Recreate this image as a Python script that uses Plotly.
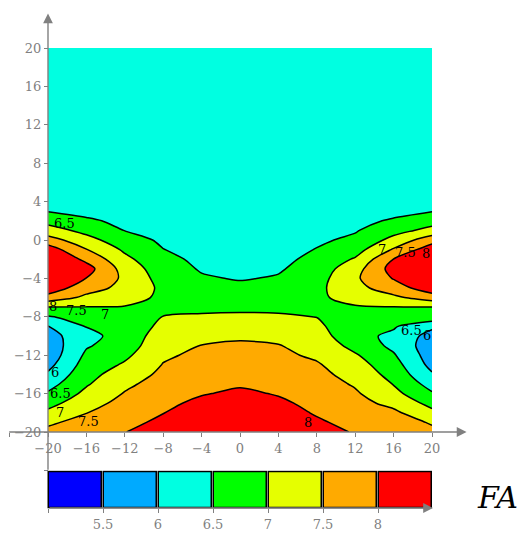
import numpy as np
import plotly.graph_objects as go

# ---------------- data ----------------
x_vals = [-20, -16, -12, -8, -4, 0, 4, 8, 12, 16, 20]
y_vals = [-20, -19, -18, -17, -16, -15, -14, -13, -12, -11, -10, -9, -8, -7,
          -6, -5, -4, -3, -2, -1, 0, 1, 2, 3, 4, 20]

# FA values, one list per x column, ordered as y_vals
fa_x_m20 = [7.60, 7.43, 7.11, 6.83, 6.56, 6.31, 6.07, 5.85, 5.70, 5.70, 5.80, 5.98, 6.45,
            6.98, 7.83, 8.30, 8.50, 8.60, 8.50, 8.25, 7.72, 7.21, 6.84, 6.48, 6.15, 6.10]
fa_x_m16 = [7.78, 7.65, 7.49, 7.31, 7.12, 6.95, 6.83, 6.71, 6.59, 6.45, 6.35, 6.52, 6.75,
            6.98, 7.38, 7.71, 7.99, 8.20, 7.88, 7.52, 7.17, 6.86, 6.58, 6.35, 6.20, 6.10]
fa_x_m12 = [7.99, 7.87, 7.75, 7.65, 7.53, 7.40, 7.25, 7.06, 6.90, 6.75, 6.70, 6.65, 6.70,
            6.97, 7.20, 7.35, 7.40, 7.30, 7.12, 6.92, 6.71, 6.49, 6.38, 6.25, 6.15, 6.10]
fa_x_m8 = [8.20, 8.10, 7.99, 7.90, 7.80, 7.70, 7.60, 7.52, 7.43, 7.35, 7.25, 7.13, 7.01,
           6.88, 6.90, 6.90, 6.80, 6.72, 6.62, 6.51, 6.42, 6.33, 6.25, 6.15, 6.10, 6.10]
fa_x_m4 = [8.40, 8.30, 8.20, 8.10, 7.97, 7.88, 7.80, 7.70, 7.60, 7.51, 7.35, 7.20, 7.06,
           6.88, 6.75, 6.65, 6.55, 6.46, 6.40, 6.33, 6.27, 6.20, 6.15, 6.10, 6.05, 6.10]
fa_x_0 = [8.42, 8.35, 8.27, 8.18, 8.08, 7.95, 7.85, 7.75, 7.65, 7.57, 7.43, 7.25, 7.08,
          6.90, 6.75, 6.60, 6.47, 6.40, 6.33, 6.26, 6.20, 6.15, 6.10, 6.05, 6.02, 6.10]
fa_x_p4 = [8.38, 8.28, 8.18, 8.08, 7.97, 7.88, 7.80, 7.70, 7.60, 7.52, 7.38, 7.22, 7.07,
           6.88, 6.75, 6.65, 6.54, 6.45, 6.38, 6.31, 6.25, 6.20, 6.15, 6.10, 6.05, 6.10]
fa_x_p8 = [8.15, 8.06, 7.96, 7.88, 7.80, 7.72, 7.63, 7.55, 7.42, 7.32, 7.23, 7.12, 6.99,
           6.88, 6.90, 6.88, 6.80, 6.72, 6.62, 6.52, 6.42, 6.33, 6.25, 6.17, 6.10, 6.10]
fa_x_p12 = [7.97, 7.87, 7.77, 7.67, 7.56, 7.45, 7.33, 7.20, 7.05, 6.85, 6.65, 6.60, 6.70,
            6.95, 7.20, 7.35, 7.42, 7.30, 7.05, 6.80, 6.60, 6.46, 6.36, 6.25, 6.15, 6.10]
fa_x_p16 = [7.85, 7.75, 7.60, 7.36, 7.15, 6.98, 6.83, 6.70, 6.55, 6.38, 6.40, 6.55, 6.72,
            6.98, 7.40, 7.75, 8.03, 8.20, 8.01, 7.55, 7.15, 6.83, 6.56, 6.35, 6.20, 6.10]
fa_x_p20 = [7.62, 7.45, 7.12, 6.85, 6.55, 6.30, 6.05, 5.85, 5.75, 5.72, 5.80, 6.10, 6.85,
            6.99, 7.75, 8.30, 8.50, 8.60, 8.50, 8.30, 7.80, 7.15, 6.80, 6.48, 6.12, 6.10]

# contour levels / colour bar
cb_edges = [5.0, 5.5, 6.0, 6.5, 7.0, 7.5, 8.0, 8.5]
cb_colors = ["#0000ff", "#00aaff", "#00ffe1", "#00ff00", "#e5ff00", "#ffaa00", "#ff0000"]
cb_ticks = [5.0, 5.5, 6.0, 6.5, 7.0, 7.5, 8.0]
cb_ticktext = ["", "5.5", "6", "6.5", "7", "7.5", "8"]

# axis ticks
x_ticks = [-24, -20, -16, -12, -8, -4, 0, 4, 8, 12, 16, 20]
y_ticks = [-24, -20, -16, -12, -8, -4, 0, 4, 8, 12, 16, 20]

# contour labels as drawn in the reference
label_text = ["6.5", "8", "7.5", "7", "6", "6.5", "7", "7.5", "8",
              "7", "7.5", "8", "6.5", "6"]
label_x = [-18.3, -19.5, -17.0, -14.1, -19.3, -18.75, -18.75, -15.8, 7.1,
           14.8, 17.2, 19.4, 17.9, 19.5]
label_y = [1.7, -6.9, -7.3, -7.8, -13.8, -16.0, -18.0, -18.9, -19.0,
           -1.0, -1.3, -1.4, -9.4, -9.9]

# ---------------- figure ----------------
W, H = 522, 534
PX = 9.6            # pixels per data unit in the main plot
GRAY = "#808080"
SERIF = "DejaVu Serif, Liberation Serif, serif"

z = np.array([fa_x_m20, fa_x_m16, fa_x_m12, fa_x_m8, fa_x_m4, fa_x_0,
              fa_x_p4, fa_x_p8, fa_x_p12, fa_x_p16, fa_x_p20]).T

lo, hi, step = cb_edges[1], cb_edges[-2], 0.5
n = len(cb_colors)
colorscale = [[k / (n - 1), c] for k, c in enumerate(cb_colors)]

fig = go.Figure()
fig.add_trace(go.Contour(
    x=x_vals, y=y_vals, z=z,
    autocontour=False,
    contours=dict(start=lo, end=hi, size=step, coloring="fill", showlines=True),
    line=dict(color="black", width=1.5, smoothing=0.8),
    colorscale=colorscale, showscale=False, hoverinfo="skip",
))

centers = [(a + b) / 2 for a, b in zip(cb_edges[:-1], cb_edges[1:])]
fig.add_trace(go.Bar(
    x=centers, y=[1] * len(centers), width=0.49,
    marker=dict(color=cb_colors, line=dict(color="black", width=1.5)),
    xaxis="x2", yaxis="y2", showlegend=False, hoverinfo="skip",
))

# main axes: pixel 48 <-> -20 in both directions
x0 = -20 - 48 / PX
y_top = 20 + 48 / PX
main_bottom_px = 472
tick_font = dict(family=SERIF, size=13, color=GRAY)


def fmt(v):
    return "" if v == -24 else str(v).replace("-", "\u2212")


fig.update_layout(
    width=W, height=H,
    margin=dict(l=0, r=0, t=0, b=0),
    paper_bgcolor="white", plot_bgcolor="rgba(0,0,0,0)",
    showlegend=False,
    xaxis=dict(domain=[0, 1], range=[x0, x0 + W / PX],
               tickvals=x_ticks, ticktext=[fmt(v) for v in x_ticks],
               ticks="outside", ticklen=4, tickwidth=1.2, tickcolor=GRAY,
               tickfont=tick_font, showgrid=False, zeroline=False, showline=False,
               anchor="free", position=1 - 432 / H),
    yaxis=dict(domain=[1 - main_bottom_px / H, 1],
               range=[y_top - main_bottom_px / PX, y_top],
               tickvals=y_ticks, ticktext=[fmt(v) for v in y_ticks],
               ticks="outside", ticklen=4, tickwidth=1.2, tickcolor=GRAY,
               tickfont=tick_font, showgrid=False, zeroline=False, showline=False,
               anchor="free", position=48 / W),
    xaxis2=dict(domain=[0, 1],
                range=[cb_edges[0] - 48 / 110, cb_edges[0] - 48 / 110 + W / 110],
                tickvals=cb_ticks, ticktext=cb_ticktext,
                ticks="outside", ticklen=4, tickwidth=1.2, tickcolor=GRAY,
                tickfont=tick_font, showgrid=False, zeroline=False, showline=False,
                anchor="free", position=1 - 508 / H),
    yaxis2=dict(domain=[1 - 509.8 / H, 1 - 470.2 / H], range=[-0.05, 1.05],
                visible=False, anchor="x2"),
    bargap=0,
)

arrow = dict(text="", showarrow=True, arrowhead=2, arrowsize=1.4, arrowwidth=1.4,
             arrowcolor=GRAY, standoff=0, startstandoff=0)
# x axis line with arrow
fig.add_annotation(x=23.6, y=-20, ax=-24.2, ay=-20, xref="x", yref="y",
                   axref="x", ayref="y", **arrow)
# y axis line with arrow
fig.add_annotation(x=-20, y=23.6, ax=-20, ay=-24.1, xref="x", yref="y",
                   axref="x", ayref="y", **arrow)
# colour bar axis with arrow
fig.add_annotation(x=cb_edges[-1], y=0, ax=cb_edges[0], ay=0, xref="x2", yref="y2",
                   axref="x2", ayref="y2", **arrow)

for t, lx, ly in zip(label_text, label_x, label_y):
    fig.add_annotation(x=lx, y=ly, text=t, showarrow=False, xref="x", yref="y",
                       font=dict(family=SERIF, size=13, color="black"))

fig.add_annotation(x=498 / W, y=1 - 498 / H, xref="paper", yref="paper",
                   xanchor="center", yanchor="middle",
                   text="<i>FA</i>", showarrow=False,
                   font=dict(family=SERIF, size=30, color="black"))

fig.write_html("out.html",
               config={"displayModeBar": False},
               post_script="document.body.style.margin='0';"
                           "document.documentElement.style.overflow='hidden';")
